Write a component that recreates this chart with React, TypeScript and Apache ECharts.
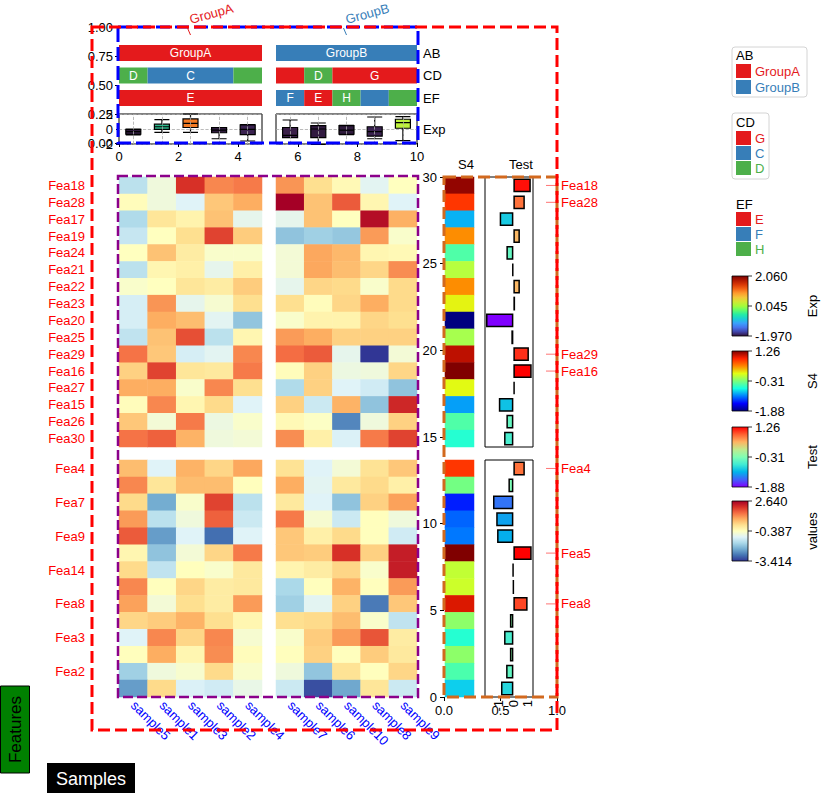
import React, { useEffect, useRef } from 'react';
import * as echarts from 'echarts';

const FONT = 'Liberation Sans';

// ---------- data ----------
const leftSamples = ['sample5', 'sample1', 'sample3', 'sample2', 'sample4'];
const rightSamples = ['sample7', 'sample6', 'sample10', 'sample8', 'sample9'];
const groupNames = ['GroupA', 'GroupB'];
const annoRows = ['AB', 'CD', 'EF'];
const annoAB = ['GroupA', 'GroupA', 'GroupA', 'GroupA', 'GroupA', 'GroupB', 'GroupB', 'GroupB', 'GroupB', 'GroupB'];
const annoCD = ['D', 'C', 'C', 'C', 'D', 'G', 'D', 'G', 'G', 'G'];
const annoEF = ['E', 'E', 'E', 'E', 'E', 'F', 'E', 'H', 'F', 'H'];

const topRows = ['Fea18', 'Fea28', 'Fea17', 'Fea19', 'Fea24', 'Fea21', 'Fea22', 'Fea23', 'Fea20', 'Fea25', 'Fea29', 'Fea16', 'Fea27', 'Fea15', 'Fea26', 'Fea30'];
const bottomRows = ['Fea4', 'Fea10', 'Fea7', 'Fea12', 'Fea9', 'Fea5', 'Fea14', 'Fea11', 'Fea8', 'Fea1', 'Fea3', 'Fea13', 'Fea2', 'Fea6'];
const highlightRows = ['Fea18', 'Fea28', 'Fea29', 'Fea16', 'Fea4', 'Fea5', 'Fea8'];

// columns: sample5, sample1, sample3, sample2, sample4, sample7, sample6, sample10, sample8, sample9
const heatTop = [
  [-1.42, -0.69, 2.03, 1.19, 1.31, 1.06, 0.22, -0.27, -0.93, -0.39],
  [-0.33, -0.69, -0.99, 0.52, 0.82, 2.64, 0.58, 1.61, -0.21, -0.99],
  [-1.54, 0.10, -0.15, 0.58, -0.87, -0.87, 0.58, -0.39, 2.46, 0.79],
  [-1.29, -0.39, 0.22, 1.85, 0.46, -1.90, -1.72, -1.84, 1.00, -0.51],
  [-0.39, 0.58, -0.02, -0.51, -0.51, -0.63, 0.88, 0.70, -0.21, -0.27],
  [-1.42, -0.21, -0.09, -0.87, -0.09, -0.63, 0.88, 0.64, 0.34, 1.13],
  [-0.51, -0.39, 0.10, -0.02, 0.46, -0.87, 0.34, 0.28, -0.51, 0.28],
  [-1.11, 1.06, -0.87, -0.57, 0.22, 0.22, -0.33, 0.34, 0.82, 0.28],
  [-1.11, 0.82, 0.64, -0.93, -1.87, -0.51, -0.15, -0.15, 0.34, 0.22],
  [-1.36, 0.58, 1.73, -1.42, -0.21, 1.00, 0.82, 0.40, 0.40, 0.40],
  [1.37, 0.52, -1.11, -0.93, 1.19, 1.43, 1.61, -0.87, -3.41, -0.63],
  [0.40, 1.85, 0.10, 0.04, 1.31, -0.33, 0.40, -0.75, -0.69, 0.34],
  [0.82, 0.82, -0.51, 1.19, 0.22, -1.54, 0.40, -0.99, -1.17, -1.90],
  [-0.33, 1.19, -0.21, 0.28, -0.99, 0.40, -1.23, 0.76, -1.90, 2.15],
  [0.52, -0.63, 1.31, -0.75, -0.51, -0.27, -0.45, -2.63, -0.69, 0.40],
  [1.37, 1.55, 0.76, -0.69, -0.63, 1.13, -0.09, -1.05, 1.31, 1.85],
];
const heatBottom = [
  [0.64, -0.99, 0.76, 0.34, 0.88, 0.16, -0.99, -0.63, 0.16, 0.52],
  [1.19, 0.10, 0.64, 0.64, -0.36, 0.82, -0.93, 0.04, 0.28, -0.09],
  [0.28, -2.20, -0.51, 1.85, -1.42, 0.04, -0.99, -1.90, 0.40, 0.94],
  [1.00, -1.42, -0.69, 1.55, -1.23, 1.31, -0.57, -1.23, -0.36, -0.69],
  [1.61, -2.38, -0.99, -2.87, -0.99, 0.52, -0.09, 0.28, -0.36, -1.17],
  [-0.21, -1.90, -0.63, 0.34, 1.31, 0.52, 0.46, 2.03, 0.40, 2.27],
  [0.28, -1.36, -0.36, -0.51, 0.04, -0.18, -0.02, 0.34, -0.51, 2.27],
  [1.19, -0.36, 0.34, -0.02, 0.04, -1.60, -0.36, 0.76, -0.36, 1.00],
  [0.94, -0.63, 0.22, -0.02, 1.00, -1.72, -0.93, 0.40, -2.75, 0.52],
  [0.34, 0.46, 0.76, 0.22, -0.21, 0.22, 0.28, 0.64, -0.51, -1.36],
  [-0.99, 1.19, 0.34, 1.19, -0.57, -0.51, 0.46, 1.00, 1.67, -0.02],
  [-0.36, 0.82, -0.21, 1.13, -0.33, -0.36, 0.40, -0.36, 0.46, 0.04],
  [-1.72, -0.69, -0.55, 0.28, -0.51, -0.69, -1.87, 0.16, -0.36, 0.34],
  [-2.38, 0.28, -1.05, -1.17, -0.81, -1.23, -3.17, -2.26, 0.10, -1.23],
];

// S4 / Test row annotation values
const s4Top = [1.2, 0.79, -0.94, 0.45, -0.48, -0.08, 0.45, 0.12, -1.88, -0.14, 1.07, 1.26, 0.1, -1.0, -0.48, -0.64];
const s4Bottom = [0.79, -0.34, -1.4, -1.18, -1.12, 1.26, -0.04, 0.0, 0.98, -0.24, -0.64, -0.24, -0.5, -0.85];

// Exp boxplot stats [min, Q1, median, Q3, max], same column order as heatmap
const expBox = [
  [-0.8, -0.7, -0.35, -0.05, 0.0],
  [-0.45, -0.05, 0.3, 0.65, 1.25],
  [-0.45, 0.2, 0.75, 1.35, 2.0],
  [-1.3, -0.5, -0.15, 0.2, 0.2],
  [-1.6, -0.75, -0.05, 0.55, 0.6],
  [-1.15, -1.15, -0.85, 0.2, 1.2],
  [-2.05, -1.15, 0.0, 0.45, 0.8],
  [-0.75, -0.7, -0.15, 0.45, 0.5],
  [-1.3, -0.95, -0.35, 0.3, 1.6],
  [-1.55, 0.1, 0.85, 1.3, 1.65],
];

const cbExpLabels = ['2.060', '0.045', '-1.970'];
const cbS4Labels = ['1.26', '-0.31', '-1.88'];
const cbTestLabels = ['1.26', '-0.31', '-1.88'];
const cbValuesLabels = ['2.640', '-0.387', '-3.414'];

// ---------- styles ----------
const RDYLBU_R = ['#313695', '#4575b4', '#74add1', '#abd9e9', '#e0f3f8', '#ffffbf', '#fee090', '#fdae61', '#f46d43', '#d73027', '#a50026'];
const JET = ['#000080', '#0000ff', '#0080ff', '#15ffe2', '#7bff7b', '#e1ff14', '#ff8500', '#ff2200', '#800000'];
const RAINBOW = ['#8000ff', '#4062fa', '#00b4eb', '#40ebd4', '#80ffb4', '#c0eb8e', '#ffb462', '#ff6232', '#ff0000'];
const TURBO = ['#30123b', '#4145ab', '#4675ed', '#39a2fc', '#1bcfd4', '#24eca6', '#61fc6c', '#a4fc3b', '#d1e834', '#f3c63a', '#fe9b2d', '#f36315', '#d93806', '#b11901', '#7a0403'];
const boxColors = ['#2e1a3c', '#2cb98c', '#f27a24', '#2e1a3c', '#3a2250', '#3a1f48', '#311a40', '#2e1a3c', '#3a2250', '#bff23e'];
const catColors: Record<string, string> = {
  GroupA: '#e41a1c', GroupB: '#377eb8', G: '#e41a1c', C: '#377eb8', D: '#4daf4a', E: '#e41a1c', F: '#377eb8', H: '#4daf4a',
};

type Run = { cat: string; start: number; end: number; row: number; show: boolean };
function makeRuns(vals: string[], row: number): Run[] {
  const runs: Run[] = [];
  vals.forEach((v, i) => {
    const last = runs[runs.length - 1];
    if (last && last.cat === v) last.end = i;
    else runs.push({ cat: v, start: i, end: i, row, show: false });
  });
  const best: Record<string, Run> = {};
  runs.forEach((r) => {
    const b = best[r.cat];
    if (!b || r.end - r.start > b.end - b.start) best[r.cat] = r;
  });
  Object.values(best).forEach((r) => (r.show = true));
  return runs;
}
function groupRuns(offset: number): Run[] {
  return [annoAB, annoCD, annoEF].flatMap((arr, row) => makeRuns(arr.slice(offset, offset + 5), row));
}

function hmData(matrix: number[][], off: number) {
  const out: number[][] = [];
  matrix.forEach((row, r) => {
    for (let c = 0; c < 5; c++) out.push([c, r, row[c + off]]);
  });
  return out;
}

const grad = (colors: string[]) =>
  new echarts.graphic.LinearGradient(0, 1, 0, 0, colors.map((c, i) => ({ offset: i / (colors.length - 1), color: c })));

export default function App() {
  const ref = useRef<HTMLDivElement>(null);
  useEffect(() => {
    if (!ref.current) return;
    const chart = echarts.init(ref.current, undefined, { renderer: 'svg' });

    const grids = [
      { left: 119, top: 27, width: 298, height: 116 }, //0 blue frame axes
      { left: 119, top: 41.75, width: 143, height: 67.5 }, //1 anno L
      { left: 276, top: 41.75, width: 141, height: 67.5 }, //2 anno R
      { left: 119, top: 114, width: 143, height: 30, show: true, borderColor: '#000', borderWidth: 1 }, //3 box L
      { left: 276, top: 114, width: 141, height: 30, show: true, borderColor: '#000', borderWidth: 1 }, //4 box R
      { left: 119, top: 177, width: 143, height: 270 }, //5
      { left: 119, top: 460, width: 143, height: 237 }, //6
      { left: 276, top: 177, width: 141, height: 270 }, //7
      { left: 276, top: 460, width: 141, height: 237 }, //8
      { left: 445, top: 177, width: 29, height: 270 }, //9
      { left: 445, top: 460, width: 29, height: 237 }, //10
      { left: 485, top: 177, width: 48, height: 270, show: true, borderColor: '#000', borderWidth: 1 }, //11
      { left: 485, top: 460, width: 48, height: 237, show: true, borderColor: '#000', borderWidth: 1 }, //12
      { left: 444, top: 177, width: 113, height: 520 }, //13 orange frame axes
    ].map((g) => ({ ...g, containLabel: false, outerBoundsMode: 'none' }));

    const hidden = { axisLine: { show: false }, axisTick: { show: false }, axisLabel: { show: false }, splitLine: { show: false } };
    const lbl = { color: '#000', fontSize: 13, fontFamily: FONT };

    const xAxis: any[] = [
      { gridIndex: 0, type: 'value', min: 0, max: 10, interval: 2, axisLine: { show: false }, axisTick: { show: true, length: 4, lineStyle: { color: '#000' } }, axisLabel: { ...lbl, margin: 7 }, splitLine: { show: false } },
      { gridIndex: 1, type: 'category', data: leftSamples, ...hidden },
      { gridIndex: 2, type: 'category', data: rightSamples, ...hidden },
      { gridIndex: 3, type: 'category', data: leftSamples, ...hidden },
      { gridIndex: 4, type: 'category', data: rightSamples, ...hidden },
      { gridIndex: 5, type: 'category', data: leftSamples, ...hidden },
      { gridIndex: 6, type: 'category', data: leftSamples, ...hidden, axisLabel: { show: true, interval: 0, rotate: -45, color: '#0000ff', fontSize: 13, fontFamily: FONT, margin: 6 } },
      { gridIndex: 7, type: 'category', data: rightSamples, ...hidden },
      { gridIndex: 8, type: 'category', data: rightSamples, ...hidden, axisLabel: { show: true, interval: 0, rotate: -45, color: '#0000ff', fontSize: 13, fontFamily: FONT, margin: 6 } },
      { gridIndex: 9, type: 'category', data: ['S4'], ...hidden },
      { gridIndex: 10, type: 'category', data: ['S4'], ...hidden },
      { gridIndex: 11, type: 'value', min: -1.95, max: 1.35, ...hidden },
      { gridIndex: 12, type: 'value', min: -1.95, max: 1.35, ...hidden, axisLabel: { show: true, customValues: [-1, 0, 1], rotate: 90, ...lbl, margin: 3 } },
      { gridIndex: 13, type: 'value', min: 0, max: 1, interval: 0.5, axisLine: { show: false }, axisTick: { show: true, length: 4, lineStyle: { color: '#000' } }, axisLabel: { ...lbl, margin: 7, formatter: (v: number) => v.toFixed(1) }, splitLine: { show: false } },
    ];
    const yAxis: any[] = [
      { gridIndex: 0, type: 'value', min: 0, max: 1, interval: 0.25, axisLine: { show: false }, axisTick: { show: true, length: 4, lineStyle: { color: '#000' } }, axisLabel: { ...lbl, margin: 6, formatter: (v: number) => v.toFixed(2) }, splitLine: { show: false } },
      { gridIndex: 1, type: 'category', data: annoRows, inverse: true, ...hidden },
      { gridIndex: 2, type: 'category', data: annoRows, inverse: true, position: 'right', ...hidden, axisLabel: { show: true, ...lbl, margin: 6, interval: 0 } },
      { gridIndex: 3, type: 'value', min: -2, max: 2, interval: 2, axisLine: { show: false }, axisTick: { show: true, length: 3, lineStyle: { color: '#000' } }, axisLabel: { ...lbl, margin: 6 }, splitLine: { show: true, lineStyle: { type: 'dashed', color: '#aaaaaa', width: 0.8 } } },
      { gridIndex: 4, type: 'value', min: -2, max: 2, interval: 2, position: 'right', axisLine: { show: false }, axisTick: { show: false }, axisLabel: { show: false }, splitLine: { show: true, lineStyle: { type: 'dashed', color: '#aaaaaa', width: 0.8 } }, name: 'Exp', nameLocation: 'middle', nameRotate: 0, nameGap: 6, nameTextStyle: { ...lbl, align: 'left', verticalAlign: 'middle' } },
      { gridIndex: 5, type: 'category', data: topRows, inverse: true, ...hidden, axisLabel: { show: true, interval: 0, color: '#ff0000', fontSize: 13, fontFamily: FONT, margin: 34 } },
      { gridIndex: 6, type: 'category', data: bottomRows, inverse: true, ...hidden, axisLabel: { show: true, interval: 1, color: '#ff0000', fontSize: 13, fontFamily: FONT, margin: 34 } },
      { gridIndex: 7, type: 'category', data: topRows, inverse: true, ...hidden },
      { gridIndex: 8, type: 'category', data: bottomRows, inverse: true, ...hidden },
      { gridIndex: 9, type: 'category', data: topRows, inverse: true, ...hidden },
      { gridIndex: 10, type: 'category', data: bottomRows, inverse: true, ...hidden },
      { gridIndex: 11, type: 'category', data: topRows, inverse: true, ...hidden },
      { gridIndex: 12, type: 'category', data: bottomRows, inverse: true, ...hidden },
      { gridIndex: 13, type: 'value', min: 0, max: 30, interval: 5, axisLine: { show: false }, axisTick: { show: true, length: 4, lineStyle: { color: '#000' } }, axisLabel: { ...lbl, margin: 7 }, splitLine: { show: false } },
    ];

    const annoSeries = (idx: number, runs: Run[]) => ({
      type: 'custom',
      xAxisIndex: idx,
      yAxisIndex: idx,
      clip: false,
      encode: { x: [0, 1], y: 2 },
      data: runs.map((r) => [r.start, r.end, r.row]),
      renderItem: (params: any, api: any) => {
        const run = runs[params.dataIndex];
        const p0 = api.coord([api.value(0), api.value(2)]);
        const p1 = api.coord([api.value(1), api.value(2)]);
        const bw = api.size([1, 0])[0];
        const x = p0[0] - bw / 2;
        const w = p1[0] - p0[0] + bw;
        const children: any[] = [
          { type: 'rect', shape: { x, y: p0[1] - 8, width: w, height: 16 }, style: { fill: catColors[run.cat] } },
        ];
        if (run.show) {
          children.push({ type: 'text', x: x + w / 2, y: p0[1], style: { text: run.cat, fill: '#fff', font: `12px "${FONT}"`, align: 'center', verticalAlign: 'middle' } });
        }
        return { type: 'group', children };
      },
    });

    const boxSeries = (idx: number, off: number) => ({
      type: 'boxplot',
      xAxisIndex: idx,
      yAxisIndex: idx,
      z: 3,
      boxWidth: [15, 15],
      data: expBox.slice(off, off + 5).map((v, i) => ({ value: v, itemStyle: { color: boxColors[off + i], borderColor: '#000', borderWidth: 1.2 } })),
    });
    const gridLineSeries = (idx: number, cats: string[]) => ({
      type: 'line',
      xAxisIndex: idx,
      yAxisIndex: idx,
      z: 1,
      data: [],
      markLine: { silent: true, symbol: ['none', 'none'], label: { show: false }, lineStyle: { type: 'dashed', color: '#aaaaaa', width: 0.8 }, data: cats.map((c) => ({ xAxis: c })) },
    });

    const heatSeries = (idx: number, matrix: number[][], off: number) => ({
      type: 'heatmap', xAxisIndex: idx, yAxisIndex: idx, data: hmData(matrix, off), itemStyle: { borderWidth: 0 },
    });
    const s4Series = (idx: number, vals: number[]) => ({
      type: 'heatmap', xAxisIndex: idx, yAxisIndex: idx, data: vals.map((v, r) => [0, r, v]),
    });
    const testSeries = (idx: number, vals: number[], rows: string[]) => ({
      type: 'bar', xAxisIndex: idx, yAxisIndex: idx, barWidth: '82%', encode: { x: 0, y: 1 },
      data: vals.map((v, r) => [v, rows[r]]),
      itemStyle: { borderColor: '#000', borderWidth: 1.5 },
    });
    const markSeries = (idx: number, rows: string[]) => {
      const items = rows.map((r, i) => ({ r, i })).filter((o) => highlightRows.includes(o.r));
      return {
        type: 'custom', xAxisIndex: idx, yAxisIndex: idx, clip: false, encode: { x: 0, y: 1 },
        data: items.map((o) => [0, o.i]),
        renderItem: (params: any, api: any) => {
          const y = api.coord([0, api.value(1)])[1];
          return {
            type: 'group',
            children: [
              { type: 'line', shape: { x1: 546, y1: y, x2: 558, y2: y }, style: { stroke: '#ff0000', lineWidth: 1, opacity: 0.55 } },
              { type: 'text', x: 561, y, style: { text: items[params.dataIndex].r, fill: '#ff0000', font: `13px "${FONT}"`, align: 'left', verticalAlign: 'middle' } },
            ],
          };
        },
      };
    };

    const series: any[] = [
      annoSeries(1, groupRuns(0)), //0
      annoSeries(2, groupRuns(5)), //1
      boxSeries(3, 0), //2
      boxSeries(4, 5), //3
      heatSeries(5, heatTop, 0), //4
      heatSeries(6, heatBottom, 0), //5
      heatSeries(7, heatTop, 5), //6
      heatSeries(8, heatBottom, 5), //7
      s4Series(9, s4Top), //8
      s4Series(10, s4Bottom), //9
      testSeries(11, s4Top, topRows), //10
      testSeries(12, s4Bottom, bottomRows), //11
      markSeries(11, topRows), //12
      markSeries(12, bottomRows), //13
      gridLineSeries(3, leftSamples), //14
      gridLineSeries(4, rightSamples), //15
      { type: 'scatter', xAxisIndex: 0, yAxisIndex: 0, data: [] }, //16
      { type: 'scatter', xAxisIndex: 13, yAxisIndex: 13, data: [] }, //17
    ];

    const visualMap: any[] = [
      { type: 'continuous', show: false, seriesIndex: [4, 5, 6, 7], dimension: 2, min: -3.414, max: 2.64, inRange: { color: RDYLBU_R } },
      { type: 'continuous', show: false, seriesIndex: [8, 9], dimension: 2, min: -1.88, max: 1.26, inRange: { color: JET } },
      { type: 'continuous', show: false, seriesIndex: [10, 11], dimension: 0, min: -1.88, max: 1.26, inRange: { color: RAINBOW } },
    ];

    // ---------- graphics ----------
    const g: any[] = [];
    const txt = (text: string, x: number, y: number, fill: string, size: number, extra: any = {}) => ({
      type: 'text', x, y, z: 120, silent: true, rotation: extra.rotation || 0,
      style: { text, fill, font: `${size}px "${FONT}"`, align: extra.align || 'left', verticalAlign: extra.va || 'middle' },
    });
    const frame = (x: number, y: number, w: number, h: number, stroke: string, lw: number, dash: number[]) => ({
      type: 'rect', z: 110, silent: true, shape: { x, y, width: w, height: h }, style: { fill: 'none', stroke, lineWidth: lw, lineDash: dash },
    });
    g.push(frame(118, 176, 300, 521, '#8b008b', 2.5, [10, 4]));
    g.push(frame(444, 177, 113, 520, '#d2691e', 3, [12, 5]));
    g.push(frame(118, 27, 300, 116, '#0000ff', 3, [14, 5]));
    g.push(frame(92, 27, 465, 703, '#ff0000', 3, [12, 5]));

    // group titles
    const groupCenters = [119 + 143 / 2, 276 + 141 / 2];
    groupNames.forEach((name, i) => {
      const cx = groupCenters[i];
      g.push({ type: 'line', z: 120, silent: true, shape: { x1: cx - 3, y1: 28, x2: cx, y2: 35 }, style: { stroke: catColors[name], lineWidth: 1 } });
      g.push(txt(name, cx + 1, 26, catColors[name], 13, { rotation: 0.27, va: 'bottom' }));
    });

    // column titles for row annotations
    g.push(txt('S4', 466, 164, '#000', 13, { align: 'center' }));
    g.push(txt('Test', 521, 164, '#000', 13, { align: 'center' }));

    // legends
    const legends = [
      { title: 'AB', cats: ['GroupA', 'GroupB'], frame: [732, 47, 75, 50], titleY: 55, ys: [71, 87] },
      { title: 'CD', cats: ['G', 'C', 'D'], frame: [732, 113, 37, 66], titleY: 122, ys: [138, 153, 168] },
      { title: 'EF', cats: ['E', 'F', 'H'], frame: null as any, titleY: 204, ys: [219, 234, 249] },
    ];
    legends.forEach((L) => {
      if (L.frame) {
        g.push({ type: 'rect', z: 100, silent: true, shape: { x: L.frame[0], y: L.frame[1], width: L.frame[2], height: L.frame[3], r: 3 }, style: { fill: '#fff', stroke: '#d4d4d4', lineWidth: 1 } });
      }
      g.push(txt(L.title, 736, L.titleY, '#000', 13));
      L.cats.forEach((c, i) => {
        g.push({ type: 'rect', z: 120, silent: true, shape: { x: 736, y: L.ys[i] - 7, width: 15, height: 14 }, style: { fill: catColors[c] } });
        g.push(txt(c, 755, L.ys[i], catColors[c], 13));
      });
    });

    // colorbars
    const bars = [
      { name: 'Exp', y: 276, colors: TURBO, labels: cbExpLabels },
      { name: 'S4', y: 351, colors: JET, labels: cbS4Labels },
      { name: 'Test', y: 427, colors: RAINBOW, labels: cbTestLabels },
      { name: 'values', y: 501, colors: RDYLBU_R, labels: cbValuesLabels },
    ];
    bars.forEach((b) => {
      const h = 60;
      g.push({ type: 'rect', z: 120, silent: true, shape: { x: 732, y: b.y, width: 16, height: h }, style: { fill: grad(b.colors), stroke: '#000', lineWidth: 0.8 } });
      b.labels.forEach((l, i) => {
        const yy = b.y + (h / 2) * i;
        g.push({ type: 'line', z: 120, silent: true, shape: { x1: 748, y1: yy, x2: 752, y2: yy }, style: { stroke: '#000', lineWidth: 0.8 } });
        g.push(txt(l, 755, yy, '#000', 13));
      });
      g.push(txt(b.name, 812, b.y + h / 2, '#000', 13, { rotation: Math.PI / 2, align: 'center' }));
    });

    // axis titles
    g.push({ type: 'rect', z: 120, silent: true, shape: { x: 0.5, y: 686, width: 29, height: 87 }, style: { fill: '#008000', stroke: '#000', lineWidth: 1 } });
    g.push(txt('Features', 15, 729.5, '#000', 17, { rotation: Math.PI / 2, align: 'center' }));
    g.push({ type: 'rect', z: 120, silent: true, shape: { x: 47, y: 763, width: 88, height: 31 }, style: { fill: '#000' } });
    g.push(txt('Samples', 91, 779, '#fff', 18, { align: 'center' }));

    chart.setOption({
      animation: false,
      backgroundColor: '#fff',
      textStyle: { fontFamily: FONT },
      grid: grids,
      xAxis,
      yAxis,
      visualMap,
      series,
      graphic: g,
    });
    return () => chart.dispose();
  }, []);
  return <div ref={ref} style={{ position: 'fixed', left: 0, top: 0, width: 823, height: 793 }} />;
}
